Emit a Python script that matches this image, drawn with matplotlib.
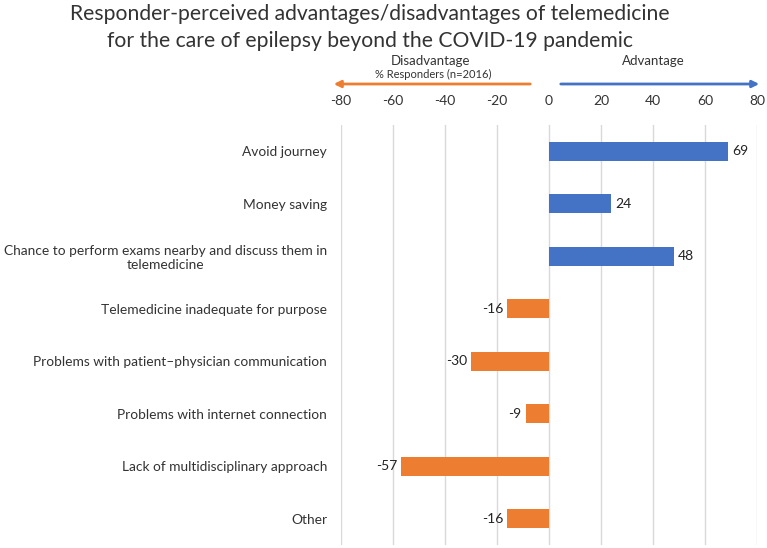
import matplotlib
matplotlib.use("Agg")
import matplotlib.pyplot as plt

plt.rcParams['font.family'] = ['Lato', 'DejaVu Sans']

categories = [
    "Avoid journey",
    "Money saving",
    "Chance to perform exams nearby and discuss them in\ntelemedicine",
    "Telemedicine inadequate for purpose",
    "Problems with patient\u2013physician communication",
    "Problems with internet connection",
    "Lack of multidisciplinary approach",
    "Other",
]
values = [69, 24, 48, -16, -30, -9, -57, -16]
xticks = [-80, -60, -40, -20, 0, 20, 40, 60, 80]

blue = '#4472C4'
orange = '#ED7D31'

W, H = 767, 548
fig = plt.figure(figsize=(W / 100, H / 100), dpi=100)
ax = fig.add_axes([341 / W, 3 / H, 416 / W, 420 / H])

ypos = list(range(len(categories)))
colors = [blue if v > 0 else orange for v in values]
ax.barh(ypos, values, height=0.37, color=colors, zorder=3)

for y, v in zip(ypos, values):
    if v > 0:
        ax.text(v + 1.5, y, str(v), va='center', ha='left', fontsize=10, color='#222222')
    else:
        ax.text(v - 1.5, y, str(v), va='center', ha='right', fontsize=10, color='#222222')

ax.set_xlim(-80, 80)
ax.set_ylim(len(categories) - 0.5, -0.5)
ax.set_xticks(xticks)
ax.set_xticklabels([str(t) for t in xticks])
ax.xaxis.tick_top()
ax.tick_params(axis='x', length=0, pad=13, labelsize=10, colors='#333333')
ax.set_yticks(ypos)
ax.set_yticklabels(categories, fontsize=9.9, color='#333333', multialignment='center')
ax.tick_params(axis='y', length=0, pad=10)
ax.grid(axis='x', color='#d9d9d9', linewidth=1, zorder=0)
for s in ax.spines.values():
    s.set_visible(False)

fig.text(370 / W, 1 - 14 / H, "Responder-perceived advantages/disadvantages of telemedicine",
         ha='center', va='center', fontsize=15.2, color='#333333')
fig.text(370 / W, 1 - 41 / H, "for the care of epilepsy beyond the COVID-19 pandemic",
         ha='center', va='center', fontsize=15.2, color='#333333')

fig.text(431 / W, 1 - 61 / H, "Disadvantage", ha='center', va='center', fontsize=9.5, color='#333333')
fig.text(433 / W, 1 - 74 / H, "% Responders (n=2016)", ha='center', va='center', fontsize=8, color='#333333')
fig.text(653 / W, 1 - 61 / H, "Advantage", ha='center', va='center', fontsize=9.5, color='#333333')

ay = H - 84
ax.annotate('', xy=(331, ay), xytext=(533, ay), xycoords='figure pixels',
            textcoords='figure pixels',
            arrowprops=dict(arrowstyle='-|>', color=orange, lw=2, mutation_scale=10))
ax.annotate('', xy=(762, ay), xytext=(558, ay), xycoords='figure pixels',
            textcoords='figure pixels',
            arrowprops=dict(arrowstyle='-|>', color=blue, lw=2, mutation_scale=10))

fig.savefig('out.png', dpi=100)
